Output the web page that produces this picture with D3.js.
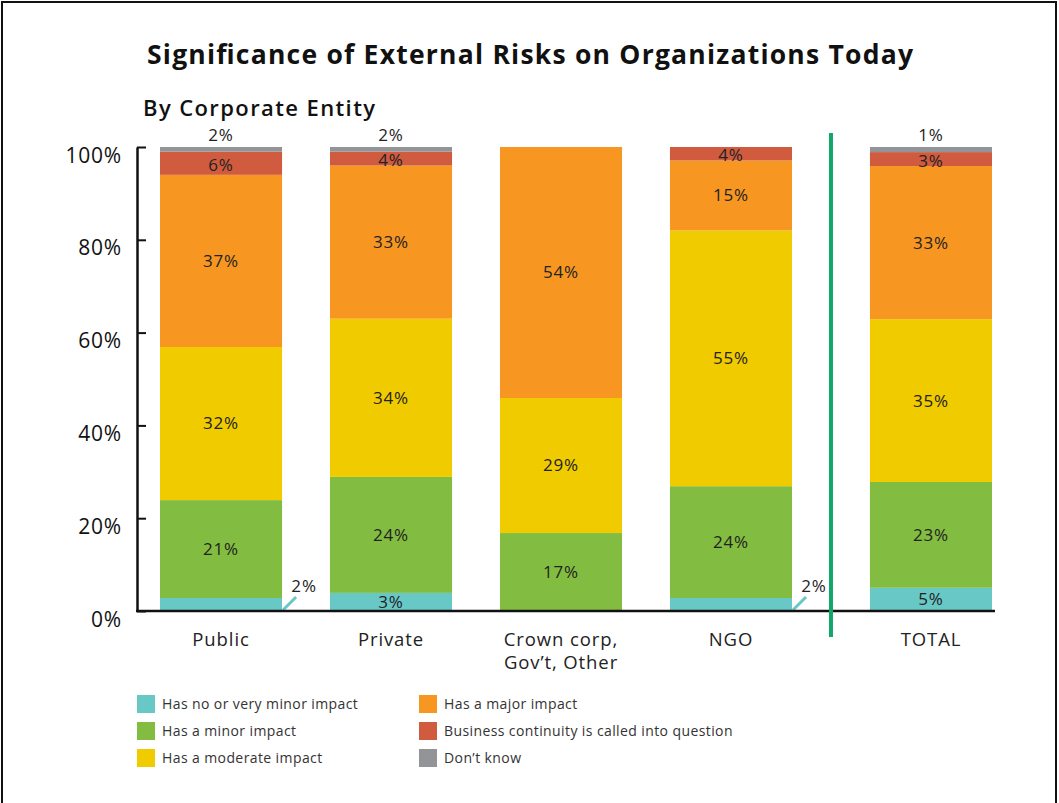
<!DOCTYPE html>
<html>
<head>
<meta charset="utf-8">
<script src="https://cdn.jsdelivr.net/npm/d3@7"></script>
<style>
  html, body { margin: 0; padding: 0; background: #fff; }
  svg { display: block; }
  text { font-family: "Open Sans", "DejaVu Sans", sans-serif; }
</style>
</head>
<body>
<svg id="chart" width="1059" height="803"></svg>
<script>
// ---------- data ----------
const categories = ["Public", "Private", "Crown corp,\nGov’t, Other", "NGO", "TOTAL"];
const seriesNames = [
  "Has no or very minor impact",
  "Has a minor impact",
  "Has a moderate impact",
  "Has a major impact",
  "Business continuity is called into question",
  "Don’t know"
];
const seriesColors = ["#68C8C6", "#82BD41", "#F0CB00", "#F79721", "#D05B3E", "#929497"];

// drawn shares (%) per category
const noImpact   = [2.8, 3.9, 0,    2.8,  5.0];
const minorImp   = [21.1, 25.0, 16.8, 24.1, 22.8];
const moderate   = [33.0, 34.1, 29.1, 55.1, 35.1];
const majorImp   = [37.1, 33.0, 54.1, 15.1, 33.0];
const business   = [5.0, 3.0, 0,    2.9,  3.0];
const dontKnow   = [1.0, 1.0, 0,    0,    1.1];

// printed labels
const noImpactLbl = ["2%", "3%", "", "2%", "5%"];
const minorLbl    = ["21%", "24%", "17%", "24%", "23%"];
const moderateLbl = ["32%", "34%", "29%", "55%", "35%"];
const majorLbl    = ["37%", "33%", "54%", "15%", "33%"];
const businessLbl = ["6%", "4%", "", "4%", "3%"];
const dontKnowLbl = ["2%", "2%", "", "", "1%"];

const yTicks = [0, 20, 40, 60, 80, 100];
const yTickLabels = ["0%", "20%", "40%", "60%", "80%", "100%"];

const seriesValues = [noImpact, minorImp, moderate, majorImp, business, dontKnow];
const seriesLabels = [noImpactLbl, minorLbl, moderateLbl, majorLbl, businessLbl, dontKnowLbl];

// ---------- layout ----------
const svg = d3.select("#chart");

// frame
svg.append("rect").attr("x", 2).attr("y", 2).attr("width", 1054).attr("height", 820)
  .attr("fill", "none").attr("stroke", "#111").attr("stroke-width", 2);

svg.append("text").attr("x", 147).attr("y", 64)
  .attr("font-size", 26.5).attr("font-weight", 700).attr("fill", "#111")
  .attr("textLength", 766).attr("lengthAdjust", "spacing")
  .text("Significance of External Risks on Organizations Today");

svg.append("text").attr("x", 143).attr("y", 116)
  .attr("font-size", 22).attr("font-weight", 600).attr("fill", "#111")
  .attr("textLength", 232).attr("lengthAdjust", "spacing")
  .text("By Corporate Entity");

const y = d3.scaleLinear().domain([0, 100]).range([611, 147]);
const x = d3.scaleBand().domain(categories).range([160, 962]).paddingInner(0.282).paddingOuter(0);
const totalGap = 30;
const xPos = c => x(c) + (c === "TOTAL" ? totalGap : 0);
const bw = x.bandwidth();

// stacked data
const rows = categories.map((c, i) => {
  const o = { cat: c };
  seriesNames.forEach((s, j) => o[s] = seriesValues[j][i]);
  return o;
});
const stack = d3.stack().keys(seriesNames)(rows);

const g = svg.append("g");
stack.forEach((layer, j) => {
  g.selectAll(null).data(layer).enter().append("rect")
    .attr("x", d => xPos(d.data.cat))
    .attr("width", bw)
    .attr("y", d => y(d[1]))
    .attr("height", d => Math.max(0, y(d[0]) - y(d[1])))
    .attr("fill", seriesColors[j]);
});

// labels
const lblG = svg.append("g").attr("font-size", 17).attr("letter-spacing", 0.8)
  .attr("fill", "#222").attr("text-anchor", "middle");
stack.forEach((layer, j) => {
  layer.forEach((d, i) => {
    const lbl = seriesLabels[j][i];
    if (!lbl) return;
    const cx = xPos(d.data.cat) + bw / 2;
    const h = y(d[0]) - y(d[1]);
    if (j === 5) {
      lblG.append("text").attr("x", cx).attr("y", y(d[1]) - 12).attr("dy", "0.35em").text(lbl);
    } else if (j === 0 && h < 16) {
      const x0 = xPos(d.data.cat) + bw + 1;
      svg.append("line").attr("x1", x0).attr("y1", y(0) - 1).attr("x2", x0 + 13).attr("y2", y(0) - 14)
        .attr("stroke", seriesColors[0]).attr("stroke-width", 3);
      lblG.append("text").attr("x", x0 + 21).attr("y", y(0) - 25).attr("dy", "0.35em").text(lbl);
    } else {
      const off = j === 4 ? 1.5 : 0;
      lblG.append("text").attr("x", cx).attr("y", (y(d[0]) + y(d[1])) / 2 + off).attr("dy", "0.35em").text(lbl);
    }
  });
});

// y axis
const yAxis = d3.axisLeft(y).tickValues(yTicks).tickFormat((d, i) => yTickLabels[i])
  .tickSizeInner(-9).tickSizeOuter(0).tickPadding(15);
const ya = svg.append("g").attr("transform", "translate(137,0)").call(yAxis);
ya.select(".domain").attr("stroke", "#111").attr("stroke-width", 2.5);
ya.selectAll(".tick line").attr("stroke", "#111").attr("stroke-width", 2);
ya.selectAll(".tick text").attr("font-size", 21).attr("fill", "#111").attr("letter-spacing", 0.8)
  .attr("font-family", "\"Open Sans\", sans-serif").attr("dy", "0.72em");

// baseline
svg.append("line").attr("x1", 136).attr("x2", xPos("TOTAL") + bw + 3)
  .attr("y1", y(0)).attr("y2", y(0)).attr("stroke", "#111").attr("stroke-width", 2.5);

// divider
const divX = (xPos("NGO") + bw + xPos("TOTAL")) / 2;
svg.append("line").attr("x1", divX).attr("x2", divX).attr("y1", 133).attr("y2", 637)
  .attr("stroke", "#12A66A").attr("stroke-width", 4);

// x labels
categories.forEach(c => {
  const lines = c.split("\n");
  const t = svg.append("text").attr("text-anchor", "middle").attr("font-size", 18.5)
    .attr("letter-spacing", 0.9).attr("fill", "#222");
  lines.forEach((ln, k) => {
    t.append("tspan").attr("x", xPos(c) + bw / 2).attr("y", 646 + k * 23).text(ln);
  });
});

// legend
const legX = [137, 419];
const legY = [695, 722, 749];
seriesNames.forEach((s, j) => {
  const col = Math.floor(j / 3), row = j % 3;
  const lg = svg.append("g").attr("transform", `translate(${legX[col]},${legY[row]})`);
  lg.append("rect").attr("width", 18).attr("height", 18).attr("fill", seriesColors[j]);
  lg.append("text").attr("x", 25).attr("y", 9).attr("dy", "0.35em")
    .attr("font-size", 14).attr("letter-spacing", 0.4).attr("fill", "#333").text(s);
});
</script>
</body>
</html>
